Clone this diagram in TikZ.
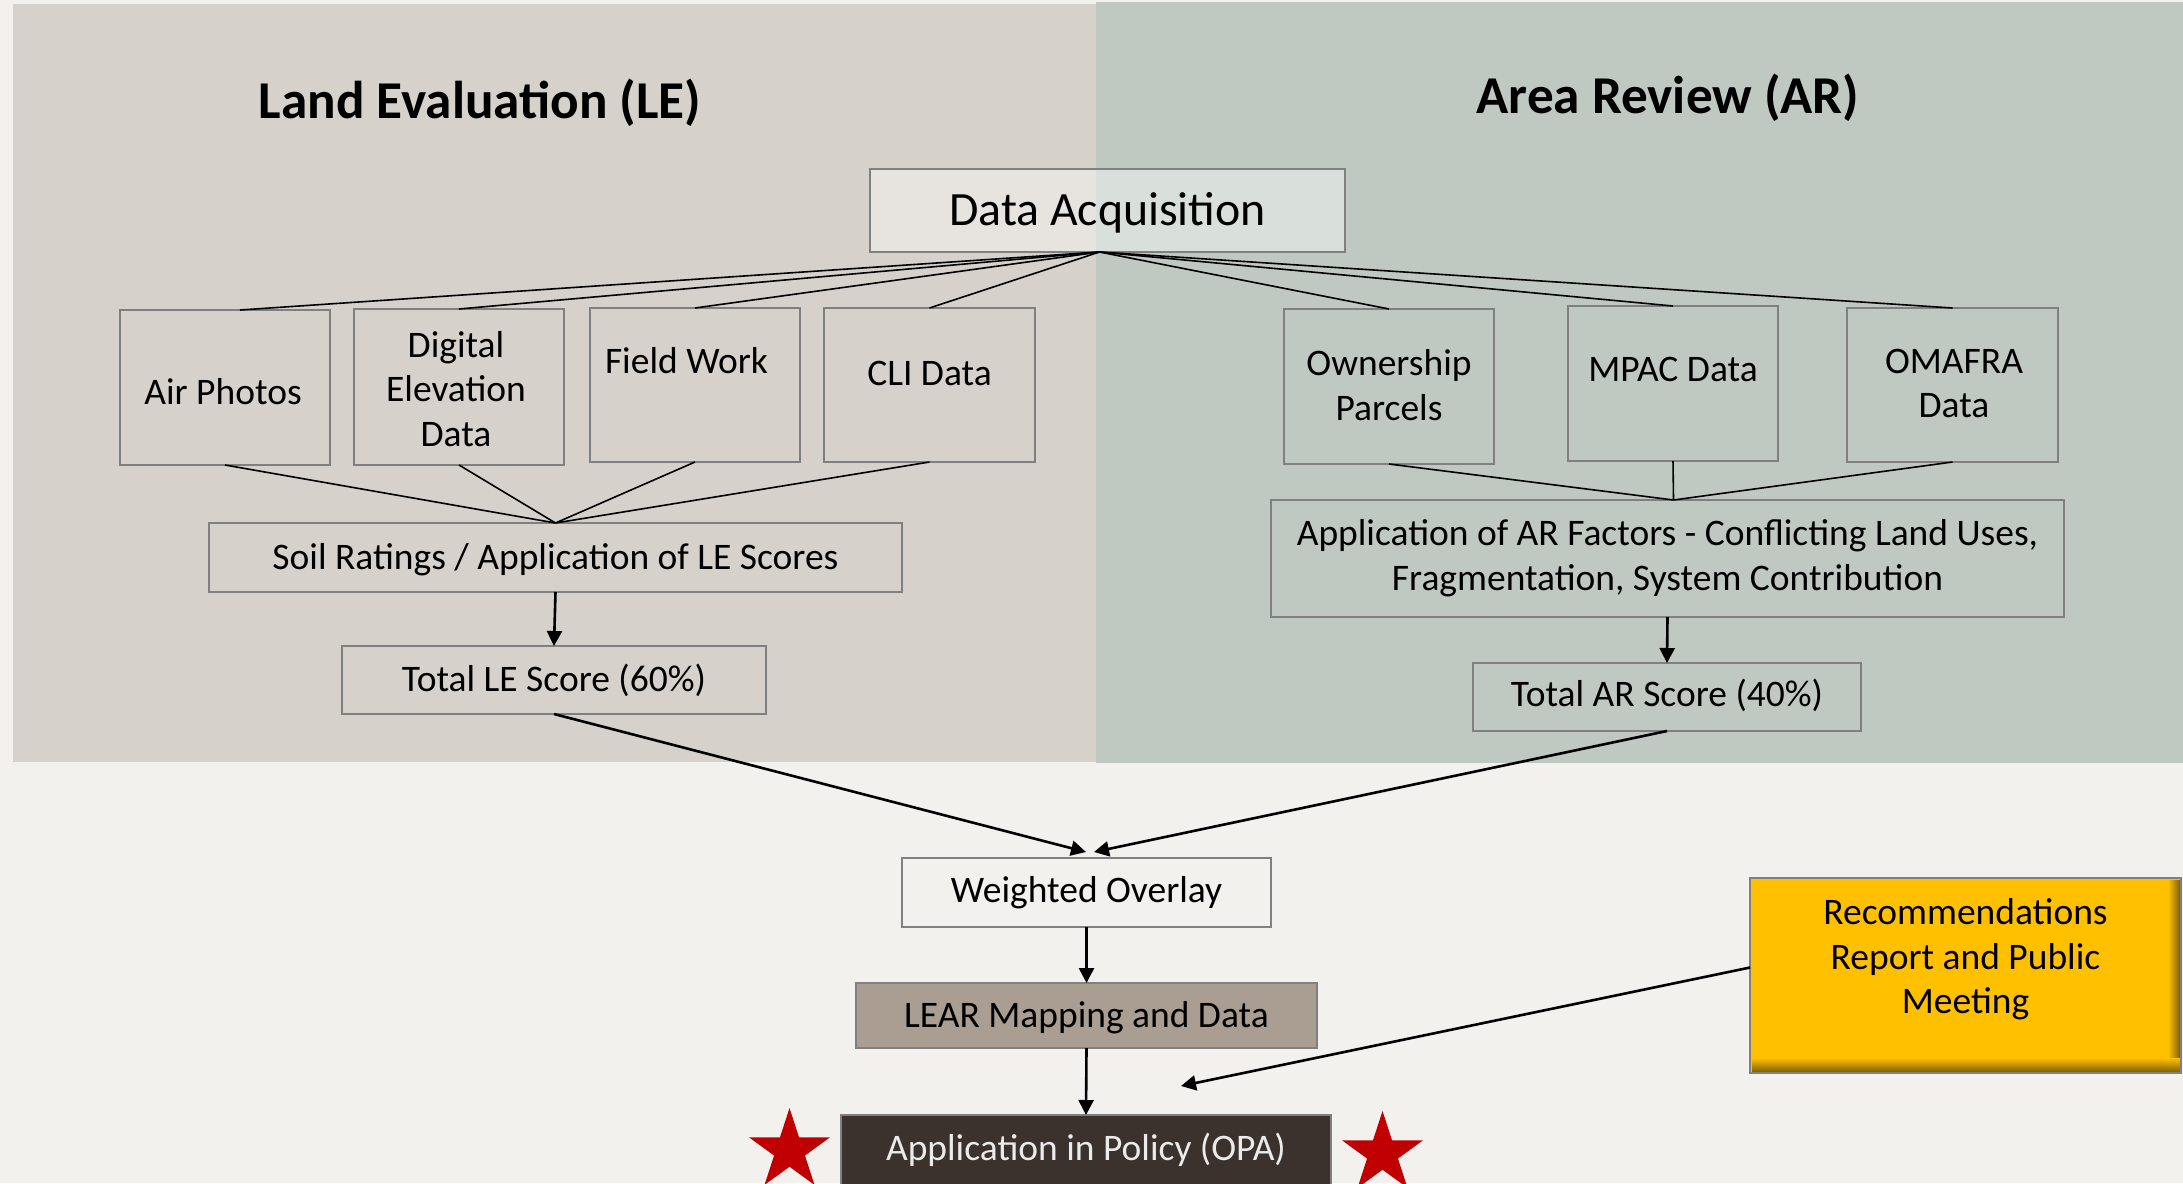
\documentclass[tikz,border=0pt]{standalone}
\usepackage{fontspec}
\setmainfont{Carlito}
\usetikzlibrary{arrows.meta,shapes.geometric}
\definecolor{pagebg}{HTML}{F2F1ED}
\definecolor{lebg}{HTML}{D6D1CB}
\definecolor{arbg}{HTML}{BFC9C1}
\definecolor{edgegray}{HTML}{808080}
\definecolor{learfill}{HTML}{A99E91}
\definecolor{policyfill}{HTML}{3B322D}
\definecolor{gold}{HTML}{FFC000}
\definecolor{golddark}{HTML}{7F6000}
\definecolor{starred}{HTML}{C00000}
\tikzset{
  boxs/.style={draw=edgegray,line width=2.8pt,inner sep=0pt,outer sep=0pt,align=center,font=\fontsize{37.5}{44.5}\selectfont},
  thinline/.style={black,line width=1.6pt},
  arrowline/.style={black,line width=2.6pt,-{Triangle[length=15pt,width=15pt]}},
  titletext/.style={font=\fontsize{53.2}{60}\selectfont\bfseries},
  redstar/.style={star,star points=5,star point ratio=2.618,fill=starred,draw=none,minimum size=85pt,inner sep=0pt,shape border rotate=0}
}
\newcommand{\bxn}[7]{%
  \pgfmathsetmacro\cxv{(#2+#4)/2}%
  \pgfmathsetmacro\cyv{(#3+#5)/2}%
  \pgfmathsetmacro\wv{#4-#2}%
  \pgfmathsetmacro\hv{#5-#3}%
  \node[boxs,#6,minimum width=\wv pt,minimum height=\hv pt] (#1) at (\cxv,\cyv) {#7};%
}
% move the text block down / up inside its box by #1 pt
\newcommand{\txtdn}[2]{\phantom{X}\\[\dimexpr 2\dimexpr #1pt\relax-44.5pt\relax]#2}
\newcommand{\txtup}[2]{#2\\[\dimexpr 2\dimexpr #1pt\relax-44.5pt\relax]\phantom{X}}
\begin{document}
\begin{tikzpicture}[x=1pt,y=-1pt]
\clip (0,0) rectangle (2183,1183);
\fill[pagebg] (0,0) rectangle (2183,1183);
\fill[lebg] (13,4) rectangle (1096,762);
\fill[arbg] (1096,2) rectangle (2183,763);
\node[titletext] (letitle) at (480,103) {Land Evaluation (LE)};
\node[titletext] (artitle) at (1668,98) {Area Review (AR)};

\bxn{data}{870}{169}{1345}{252}{fill=white,fill opacity=.42,text opacity=1,font=\fontsize{47.8}{54}\selectfont}{\rule{0pt}{38pt}Data Acquisition}
\bxn{air}{120}{310}{330}{465}{}{\txtdn{5.5}{\hspace*{-4pt}Air Photos}}
\bxn{dig}{354}{309}{564}{465}{}{\txtdn{3}{\hspace*{-6pt}Digital\\\hspace*{-6pt}Elevation\\\hspace*{-6pt}Data}}
\bxn{field}{590}{308}{800}{462}{}{\txtup{25}{\hspace*{-17pt}Field Work}}
\bxn{cli}{824}{308}{1035}{462}{}{\txtup{11.5}{CLI Data}}
\bxn{own}{1284}{309}{1494}{464}{}{\txtup{1.5}{Ownership\\Parcels}}
\bxn{mpac}{1568}{306}{1778}{461}{}{\txtup{14}{MPAC Data}}
\bxn{oma}{1847}{308}{2058}{462}{}{\txtup{1.5}{\hspace*{3pt}OMAFRA\\\hspace*{3pt}Data}}
\bxn{soil}{209}{523}{902}{592}{}{\txtdn{3}{Soil Ratings / Application of LE Scores}}
\bxn{totle}{342}{646}{766}{714}{}{Total LE Score (60\%)}
\bxn{appar}{1271}{500}{2064}{617}{}{\txtup{3.5}{Application of AR Factors - Conflicting Land Uses,\\Fragmentation, System Contribution}}
\bxn{totar}{1473}{663}{1861}{731}{}{\txtup{4.5}{Total AR Score (40\%)}}
\bxn{weighted}{902}{858}{1271}{927}{}{\txtdn{1.5}{Weighted Overlay}}
\bxn{lear}{856}{983}{1317}{1048}{fill=learfill}{\txtdn{3}{LEAR Mapping and Data}}
\bxn{policy}{841}{1115}{1331}{1187}{fill=policyfill,text=white!92!black}{\txtup{4.5}{Application in Policy (OPA)}}
\bxn{rec}{1750}{878}{2181}{1073}{fill=gold}{\txtup{19.5}{Recommendations\\Report and Public\\Meeting}}
\shade[left color=gold,right color=golddark] (2168,880) rectangle (2180,1072);
\shade[top color=gold,bottom color=golddark] (1752,1058) rectangle (2180,1072);
\draw[edgegray,line width=2.4pt] (rec.south west) rectangle (rec.north east);

\node[redstar] (starl) at (789.5,1150.5) {};
\node[redstar] (starr) at (1382.5,1153.5) {};

\coordinate (apex) at ([xshift=-8pt]data.south);
\draw[thinline] (apex) -- ([xshift=15pt]air.north);
\draw[thinline] (apex) -- (dig.north);
\draw[thinline] (apex) -- (field.north);
\draw[thinline] (apex) -- (cli.north);
\draw[thinline] (apex) -- (own.north);
\draw[thinline] (apex) -- (mpac.north);
\draw[thinline] (apex) -- (oma.north);

\draw[thinline] (air.south) -- (soil.north);
\draw[thinline] (dig.south) -- (soil.north);
\draw[thinline] (field.south) -- (soil.north);
\draw[thinline] (cli.south) -- (soil.north);
\coordinate (arjoin) at ([xshift=6pt]appar.north);
\draw[thinline] (own.south) -- (arjoin);
\draw[thinline] (mpac.south) -- (arjoin);
\draw[thinline] (oma.south) -- (arjoin);

\draw[arrowline] (soil.south) -- (totle.north);
\draw[arrowline] (appar.south) -- (totar.north);
\coordinate (wleft) at (1086,852);
\coordinate (wright) at (1094,852);
\draw[arrowline] (totle.south) -- (wleft);
\draw[arrowline] (totar.south) -- (wright);
\draw[arrowline] (weighted.south) -- (lear.north);
\draw[arrowline] (lear.south) -- (policy.north);
\coordinate (recend) at (1181,1086);
\draw[arrowline] ([yshift=8pt]rec.west) -- (recend);
\end{tikzpicture}
\end{document}
